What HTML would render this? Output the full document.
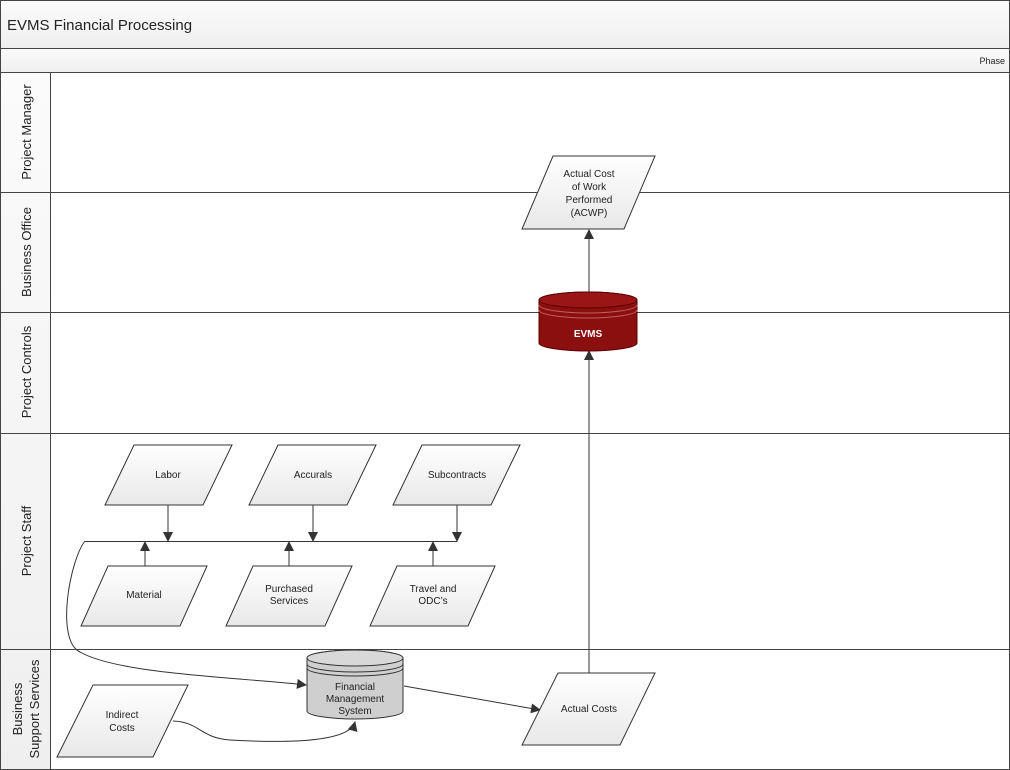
<!DOCTYPE html>
<html><head><meta charset="utf-8"><style>
html,body{margin:0;padding:0;background:#fff;}
svg{display:block;font-family:"Liberation Sans",sans-serif;}
</style></head><body>
<svg width="1010" height="770" viewBox="0 0 1010 770" xmlns="http://www.w3.org/2000/svg">
<defs>
<linearGradient id="pg" x1="0" y1="0" x2="0" y2="1"><stop offset="0" stop-color="#ffffff"/><stop offset="1" stop-color="#e8e8e8"/></linearGradient>
<linearGradient id="hd" x1="0" y1="0" x2="0" y2="1"><stop offset="0" stop-color="#fbfbfb"/><stop offset="1" stop-color="#efefef"/></linearGradient>
<marker id="ar" markerWidth="10" markerHeight="10" refX="9" refY="5" orient="auto" markerUnits="userSpaceOnUse"><path d="M0,0 L10,5 L0,10 z" fill="#333"/></marker>
</defs>
<rect x="0.5" y="0.5" width="1009" height="769" fill="#fff" stroke="#444"/>
<rect x="0.5" y="0.5" width="1009" height="48" fill="url(#hd)" stroke="#444"/>
<text x="7" y="30" font-size="15" fill="#222">EVMS Financial Processing</text>
<rect x="0.5" y="48.5" width="1009" height="24" fill="url(#hd)" stroke="#444"/>
<text x="1005" y="64" font-size="9" text-anchor="end" fill="#222">Phase</text>
<rect x="0.5" y="72.5" width="50" height="697" fill="url(#hd)" stroke="#444"/>
<g stroke="#444" stroke-width="1">
<line x1="0" y1="192.5" x2="1010" y2="192.5"/>
<line x1="0" y1="312.5" x2="1010" y2="312.5"/>
<line x1="0" y1="433.5" x2="1010" y2="433.5"/>
<line x1="0" y1="649.5" x2="1010" y2="649.5"/>
</g>
<g font-size="13" fill="#222" text-anchor="middle">
<text transform="translate(31,132) rotate(-90)">Project Manager</text>
<text transform="translate(31,252) rotate(-90)">Business Office</text>
<text transform="translate(31,372) rotate(-90)">Project Controls</text>
<text transform="translate(31,541) rotate(-90)">Project Staff</text>
<text transform="translate(22,709) rotate(-90)">Business</text>
<text transform="translate(39,709) rotate(-90)">Support Services</text>
</g>
<!-- connectors -->
<g stroke="#333" stroke-width="1" fill="none">
<line x1="589" y1="292" x2="589" y2="230" marker-end="url(#ar)"/>
<line x1="589" y1="673" x2="589" y2="351" marker-end="url(#ar)"/>
<line x1="85" y1="541.5" x2="457" y2="541.5"/>
<line x1="168" y1="505" x2="168" y2="541" marker-end="url(#ar)"/>
<line x1="313" y1="505" x2="313" y2="541" marker-end="url(#ar)"/>
<line x1="457" y1="505" x2="457" y2="541" marker-end="url(#ar)"/>
<line x1="145" y1="566" x2="145" y2="542" marker-end="url(#ar)"/>
<line x1="289" y1="566" x2="289" y2="542" marker-end="url(#ar)"/>
<line x1="433" y1="566" x2="433" y2="542" marker-end="url(#ar)"/>
<path d="M85,541 C70,560 55,640 80,652 C120,675 250,678 306,685" marker-end="url(#ar)"/>
<line x1="404" y1="686" x2="540" y2="710" marker-end="url(#ar)"/>
<path d="M173,721 C200,722 200,738 230,740 C300,744 350,740 355,722" marker-end="url(#ar)"/>
</g>
<!-- parallelograms -->
<g fill="url(#pg)" stroke="#333" stroke-width="1">
<polygon points="553,156 655,156 624,229 522,229"/>
<polygon points="134,445 232,445 203,505 105,505"/>
<polygon points="278,445 376,445 347,505 249,505"/>
<polygon points="422,445 520,445 491,505 393,505"/>
<polygon points="108,566 207,566 180,626 81,626"/>
<polygon points="253,566 352,566 325,626 226,626"/>
<polygon points="397,566 495,566 468,626 370,626"/>
<polygon points="558,673 655,673 620,745 522,745"/>
<polygon points="93,685 188,685 153,757 57,757"/>
</g>
<g font-size="10" fill="#222" text-anchor="middle">
<text x="589" y="177">Actual Cost</text><text x="589" y="190">of Work</text><text x="589" y="203">Performed</text><text x="589" y="216">(ACWP)</text>
<text x="168" y="478">Labor</text>
<text x="313" y="478">Accurals</text>
<text x="457" y="478">Subcontracts</text>
<text x="144" y="598">Material</text>
<text x="289" y="592">Purchased</text><text x="289" y="604">Services</text>
<text x="433" y="592">Travel and</text><text x="433" y="604">ODC’s</text>
<text x="589" y="712">Actual Costs</text>
<text x="122" y="718">Indirect</text><text x="122" y="731">Costs</text>
</g>
<!-- EVMS cylinder -->
<g stroke="#5a0000" stroke-width="1">
<path d="M539,300 L539,343 A49,8 0 0 0 637,343 L637,300 A49,8 0 0 0 539,300 Z" fill="#8b0f0f"/>
<ellipse cx="588" cy="300" rx="49" ry="8" fill="#9a1515"/>
<path d="M539,305 A49,8 0 0 0 637,305 M539,310 A49,8 0 0 0 637,310" fill="none" stroke="#c06060"/>
</g>
<text x="588" y="337" font-size="10" font-weight="bold" fill="#fff" text-anchor="middle">EVMS</text>
<!-- FMS cylinder -->
<g stroke="#333" stroke-width="1">
<path d="M307,658 L307,711 A48,8 0 0 0 403,711 L403,658 A48,8 0 0 0 307,658 Z" fill="#cfcfcf"/>
<ellipse cx="355" cy="658" rx="48" ry="8" fill="#d8d8d8"/>
<path d="M307,664 A48,8 0 0 0 403,664 M307,668 A48,8 0 0 0 403,668" fill="none"/>
</g>
<g font-size="10" fill="#222" text-anchor="middle">
<text x="355" y="690">Financial</text><text x="355" y="702">Management</text><text x="355" y="714">System</text>
</g>
</svg>
</body></html>
